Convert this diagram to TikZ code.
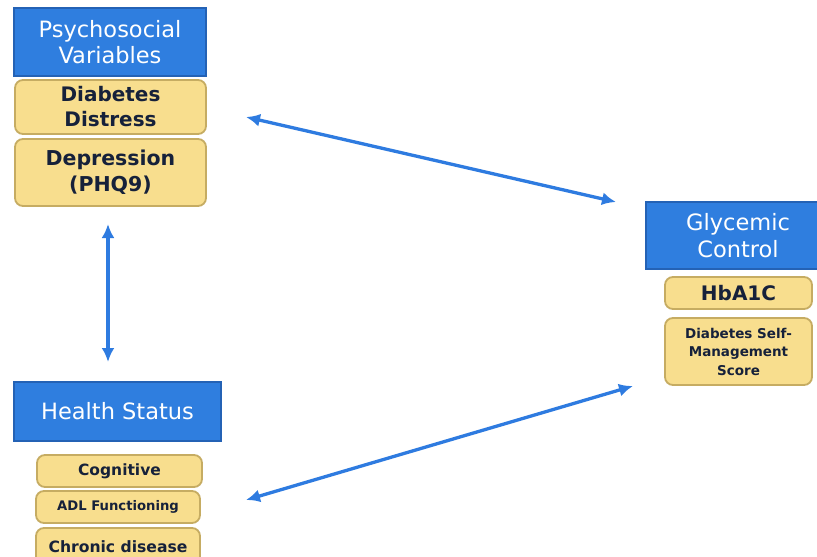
\documentclass[tikz,border=0pt]{standalone}
\usepackage{fontspec}
\setmainfont{DejaVu Sans}
\usetikzlibrary{arrows.meta}
\definecolor{hblue}{HTML}{2F7EDF}
\definecolor{hblueb}{HTML}{2462B5}
\definecolor{iyel}{HTML}{F8DE8E}
\definecolor{iyelb}{HTML}{C6AC62}
\definecolor{itext}{HTML}{16213A}
\definecolor{arr}{HTML}{2E7BE0}
\tikzset{
  headbox/.style={draw=hblueb, fill=hblue, line width=1.5pt, text=white, align=center, inner sep=0pt, font=\fontsize{22.5}{26.5}\selectfont},
  itembox/.style={draw=iyelb, fill=iyel, line width=1.8pt, rounded corners=8pt, text=itext, align=center, inner sep=0pt, font=\bfseries},
  link/.style={draw=arr, line width=3.3pt, {Latex[length=14pt,width=13pt]}-{Latex[length=14pt,width=13pt]}}
}
\begin{document}
\begin{tikzpicture}[x=1pt,y=-1pt]
\useasboundingbox (0,0) rectangle (817,557);
\fill[white] (0,0) rectangle (817,557);
% Psychosocial
\node[headbox, minimum width=192pt, minimum height=68pt] (psy) at (110,42) {Psychosocial\\Variables};
\node[itembox, minimum width=191pt, minimum height=54pt, font=\bfseries\fontsize{20}{25}\selectfont] (dd) at (110.5,107) {Diabetes\\Distress};
\node[itembox, minimum width=191pt, minimum height=67pt, font=\bfseries\fontsize{20.5}{26}\selectfont] (dep) at (110.5,172.5) {Depression\\(PHQ9)};
% Glycemic
\node[headbox, minimum width=184pt, minimum height=67pt] (gly) at (738,235.5) {Glycemic\\Control};
\node[itembox, minimum width=147pt, minimum height=32pt, font=\bfseries\fontsize{20}{24}\selectfont] (hba) at (738.5,293) {HbA1C};
\node[itembox, minimum width=147pt, minimum height=67pt, font=\bfseries\fontsize{13.5}{18.5}\selectfont] (dsm) at (738.5,351.5) {Diabetes Self-\\Management\\Score};
% Health status
\node[headbox, minimum width=207pt, minimum height=59pt] (hs) at (117.5,411.5) {Health Status};
\node[itembox, minimum width=165pt, minimum height=32pt, font=\bfseries\fontsize{15.5}{20}\selectfont] (cog) at (119.5,471) {Cognitive};
\node[itembox, minimum width=164pt, minimum height=32pt, font=\bfseries\fontsize{13.2}{16}\selectfont] (adl) at (118,507) {ADL Functioning};
\node[itembox, minimum width=164pt, minimum height=40pt, font=\bfseries\fontsize{15.6}{20}\selectfont, text depth=0pt] (chr) at (118,548) {\raisebox{-4pt}[0pt][0pt]{Chronic disease}};
% arrow endpoints
\coordinate (a1) at (246,117);
\coordinate (b1) at (616,202);
\coordinate (a2) at (108,224);
\coordinate (b2) at (108,362);
\coordinate (a3) at (246,500);
\coordinate (b3) at (633,386);
\draw[link] (a1) -- (b1);
\draw[link] (a2) -- (b2);
\draw[link] (a3) -- (b3);
\end{tikzpicture}
\end{document}
